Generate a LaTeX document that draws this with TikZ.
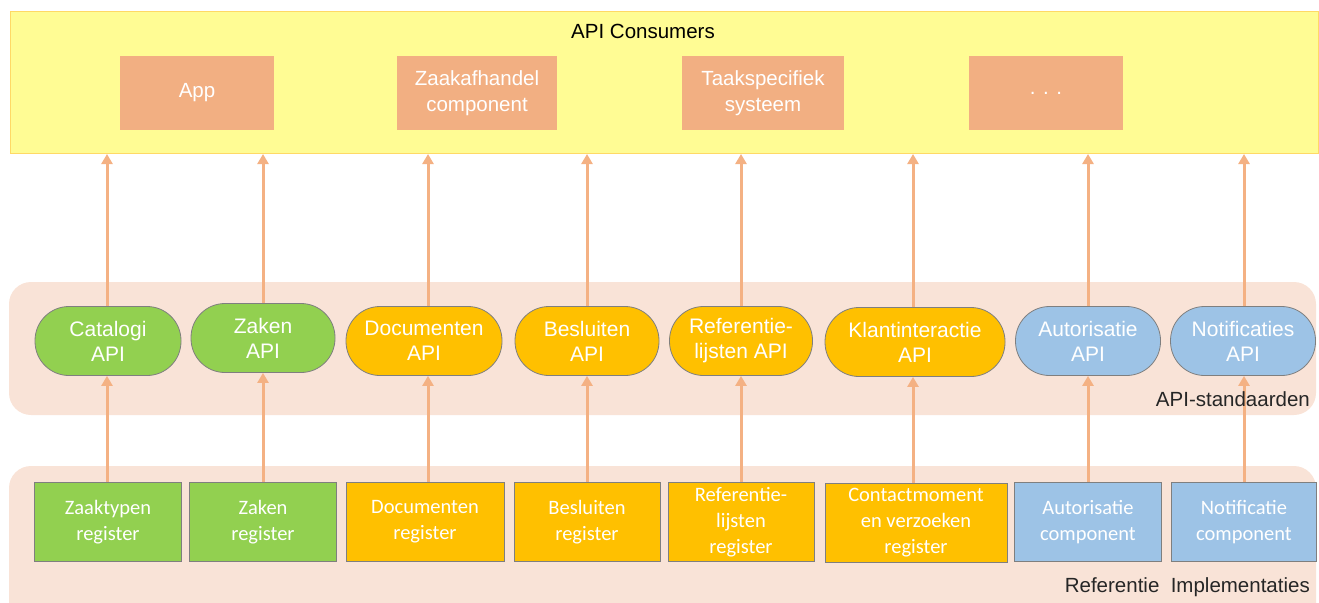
\documentclass[tikz,border=0pt]{standalone}
\usepackage{fontspec}
\setmainfont{Liberation Sans}
\newfontfamily\regfont{Carlito}
\usetikzlibrary{arrows.meta}
\definecolor{cyellow}{HTML}{FFFC94}
\definecolor{cyellowb}{HTML}{FFD966}
\definecolor{csalmon}{HTML}{F2AF82}
\definecolor{cband}{HTML}{F9E3D7}
\definecolor{cgreen}{HTML}{92D050}
\definecolor{cgold}{HTML}{FFC000}
\definecolor{cblue}{HTML}{9DC3E6}
\definecolor{cborder}{HTML}{7F7F7F}
\definecolor{carrow}{HTML}{F4B183}
\tikzset{
  consumer/.style={fill=csalmon, draw=none, minimum width=154pt, minimum height=74pt, inner sep=0pt, text=white, align=center, font=\fontsize{20.5}{26}\selectfont},
  pill/.style={draw=cborder, line width=0.8pt, rounded corners=34pt, minimum height=69pt, inner sep=0pt, text=white, align=center, font=\fontsize{21}{25}\selectfont},
  reg/.style={draw=cborder, line width=0.8pt, minimum height=79pt, inner sep=0pt, text=white, align=center, font=\regfont\fontsize{20.5}{26}\selectfont},
  arr/.style={draw=carrow, line width=3pt, -{Triangle[width=11pt,length=10pt]}},
  band/.style={fill=cband, draw=none, rounded corners=22pt},
  lbl/.style={font=\fontsize{20.5}{22}\selectfont, text=black!85, inner sep=0pt}
}
\begin{document}
\begin{tikzpicture}[x=1pt,y=-1pt]
\useasboundingbox (0,0) rectangle (1319,602);
% top area
\node[fill=cyellow, draw=cyellowb, line width=1pt, minimum width=1308pt, minimum height=142pt, inner sep=0pt, anchor=north west] (top) at (10,11) {};
\node[lbl, text=black] (title) at (643,31) {API Consumers};
\node[consumer] (c1) at (197,93) {App};
\node[consumer, minimum width=160pt] (c2) at (477,93) {Zaakafhandel\\component};
\node[consumer, minimum width=162pt] (c3) at (763,93) {Taakspecifiek\\systeem};
\node[consumer] (c4) at (1046,93) {. . .};
% bands
\fill[band] (9,282) rectangle (1316,415);
\fill[band] (9,466) rectangle (1316,625);
% pills
\node[pill, fill=cgreen, minimum width=146pt] (p1) at (108,341) {Catalogi\\API};
\node[pill, fill=cgreen, minimum width=144pt] (p2) at (263,338) {Zaken\\API};
\node[pill, fill=cgold, minimum width=156pt] (p3) at (424,341) {Documenten\\API};
\node[pill, fill=cgold, minimum width=144pt] (p4) at (587,341) {Besluiten\\API};
\node[pill, fill=cgold, minimum width=143pt] (p5) at (741,341) {Referentie-\\lijsten API};
\node[pill, fill=cgold, minimum width=180pt] (p6) at (915,342) {Klantinteractie\\API};
\node[pill, fill=cblue, minimum width=145pt] (p7) at (1088,341) {Autorisatie\\API};
\node[pill, fill=cblue, minimum width=145pt] (p8) at (1243,341) {Notificaties\\API};
% registers
\node[reg, fill=cgreen, minimum width=147pt] (r1) at (108,522) {Zaaktypen\\register};
\node[reg, fill=cgreen, minimum width=147pt] (r2) at (263,522) {Zaken\\register};
\node[reg, fill=cgold, minimum width=158pt] (r3) at (425,522) {Documenten\\register};
\node[reg, fill=cgold, minimum width=146pt] (r4) at (587,522) {Besluiten\\register};
\node[reg, fill=cgold, minimum width=146pt] (r5) at (741,522) {Referentie-\\lijsten\\register};
\node[reg, fill=cgold, minimum width=182pt] (r6) at (916,523) {Contactmoment\\en verzoeken\\register};
\node[reg, fill=cblue, minimum width=147pt] (r7) at (1088,522) {Autorisatie\\component};
\node[reg, fill=cblue, minimum width=145pt] (r8) at (1244,522) {Notificatie\\component};
% arrows
\foreach \i/\x in {1/107,2/263,3/428,4/587,5/741,6/913,7/1088,8/1244}{
  \draw[arr] (\x,0 |- r\i.north) -- (\x,0 |- p\i.south);
  \draw[arr] (\x,0 |- p\i.north) -- (\x,0 |- top.south);
}
% band labels
\node[lbl, anchor=east] (l1) at (1310,399) {API-standaarden};
\node[lbl, anchor=east] (l2) at (1310,587) {Referentie\ \ Implementaties};
\end{tikzpicture}
\end{document}
